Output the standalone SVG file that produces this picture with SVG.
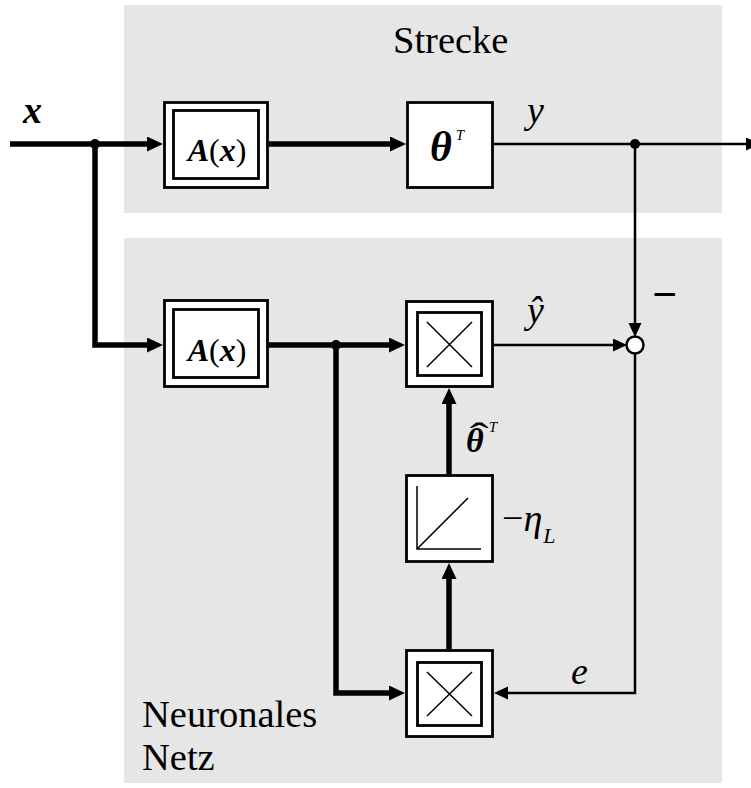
<svg xmlns="http://www.w3.org/2000/svg" width="751" height="788" viewBox="0 0 751 788">
<style>
.bg{fill:#e6e6e6;stroke:none}
.box{fill:#fff;stroke:#000;stroke-width:2.8}
.thin{fill:none;stroke:#000;stroke-width:1.5}
.wt{fill:none;stroke:#000;stroke-width:5.5}
.wn{fill:none;stroke:#000;stroke-width:2.5}
text{font-family:'Liberation Serif','DejaVu Serif',serif;fill:#000}
.i{font-style:italic}
.b{font-weight:bold}
</style>
<defs>
<marker id="ah" markerUnits="userSpaceOnUse" markerWidth="17" markerHeight="16" refX="0" refY="7.5" orient="auto">
<path d="M0,0 L16,7.5 L0,15 z" fill="#000"/>
</marker>
<marker id="an" markerUnits="userSpaceOnUse" markerWidth="15" markerHeight="14" refX="0" refY="6.5" orient="auto">
<path d="M0,0 L14,6.5 L0,13 z" fill="#000"/>
</marker>
</defs>
<g id="strecke-area">
<rect class="bg" x="124" y="5" width="598" height="208"/>
<text x="393" y="53" font-size="38.5">Strecke</text>
</g>
<g id="nn-area">
<rect class="bg" x="124" y="238" width="598" height="545"/>
<text x="142" y="727" font-size="38.5">Neuronales</text>
<text x="142" y="770" font-size="38.5">Netz</text>
</g>
<g id="connectors">
<path class="wt" d="M10,144 H147" marker-end="url(#ah)"/>
<path class="wt" d="M95,144 V345 H147" marker-end="url(#ah)"/>
<path class="wt" d="M269,144 H390" marker-end="url(#ah)"/>
<path class="wn" d="M494,144 H746" marker-end="url(#an)"/>
<path class="wn" d="M635,144 V323" marker-end="url(#an)"/>
<path class="wt" d="M269,345 H389" marker-end="url(#ah)"/>
<path class="wt" d="M336,345 V693 H389" marker-end="url(#ah)"/>
<path class="wn" d="M494,345 H613" marker-end="url(#an)"/>
<path class="wn" d="M635,354 V693 H508" marker-end="url(#an)"/>
<path class="wt" d="M449,649 V579" marker-end="url(#ah)"/>
<path class="wt" d="M449,474 V404" marker-end="url(#ah)"/>
<circle cx="95" cy="144" r="5" fill="#000"/>
<circle cx="635" cy="144" r="5" fill="#000"/>
<circle cx="336" cy="345" r="5" fill="#000"/>
</g>
<g id="label-x">
<text class="i b" x="23" y="123" font-size="38">x</text>
</g>
<g id="label-y">
<text class="i" x="527" y="123" font-size="38">y</text>
</g>
<g id="label-yhat">
<text class="i" x="527" y="323" font-size="38">ŷ</text>
</g>
<g id="label-e">
<text class="i" x="571" y="684" font-size="38">e</text>
</g>
<g id="label-minus">
<text x="664.5" y="309" font-size="44" font-weight="bold" text-anchor="middle">−</text>
</g>
<g id="block-A1">
<rect class="box" x="164.5" y="102.5" width="103" height="85"/>
<rect class="box" x="173.5" y="110.5" width="85" height="68"/>
<text x="217" y="161" font-size="32" text-anchor="middle"><tspan class="i b">A</tspan>(<tspan class="i b">x</tspan>)</text>
</g>
<g id="block-theta">
<rect class="box" x="407.5" y="102.5" width="85" height="85"/>
<text x="430" y="161" font-size="42"><tspan class="i b">θ</tspan><tspan class="i" font-size="15" dx="4" dy="-21">T</tspan></text>
</g>
<g id="block-A2">
<rect class="box" x="164.5" y="300.5" width="103" height="86"/>
<rect class="box" x="173.5" y="309.5" width="85" height="68"/>
<text x="217" y="361" font-size="32" text-anchor="middle"><tspan class="i b">A</tspan>(<tspan class="i b">x</tspan>)</text>
</g>
<g id="mult1">
<rect class="box" x="406.5" y="301.5" width="86" height="85"/>
<rect class="box" x="417.5" y="312.5" width="64" height="63"/>
<path class="thin" d="M427,322 L472,367 M472,322 L427,367"/>
</g>
<g id="sum">
<circle cx="635" cy="345" r="8.5" fill="#fff" stroke="#000" stroke-width="2.5"/>
</g>
<g id="integrator">
<rect class="box" x="406.5" y="475.5" width="86" height="86"/>
<path class="thin" d="M417,486 V549 H481 M417,549 L468,498"/>
<text x="502" y="531" font-size="38">−<tspan class="i">η</tspan><tspan class="i" font-size="22" dx="1" dy="12">L</tspan></text>
</g>
<g id="label-thetahat">
<text x="466" y="452" font-size="34"><tspan class="i b">θ</tspan><tspan class="i" font-size="15" dx="5" dy="-20">T</tspan></text>
<text x="0" y="0" font-size="36" text-anchor="middle" transform="translate(479,448) scale(1.6,1)">ˆ</text>
</g>
<g id="mult2">
<rect class="box" x="406.5" y="650.5" width="86" height="86"/>
<rect class="box" x="417.5" y="662.5" width="64" height="63"/>
<path class="thin" d="M427,672 L472,716 M472,672 L427,716"/>
</g>
</svg>
